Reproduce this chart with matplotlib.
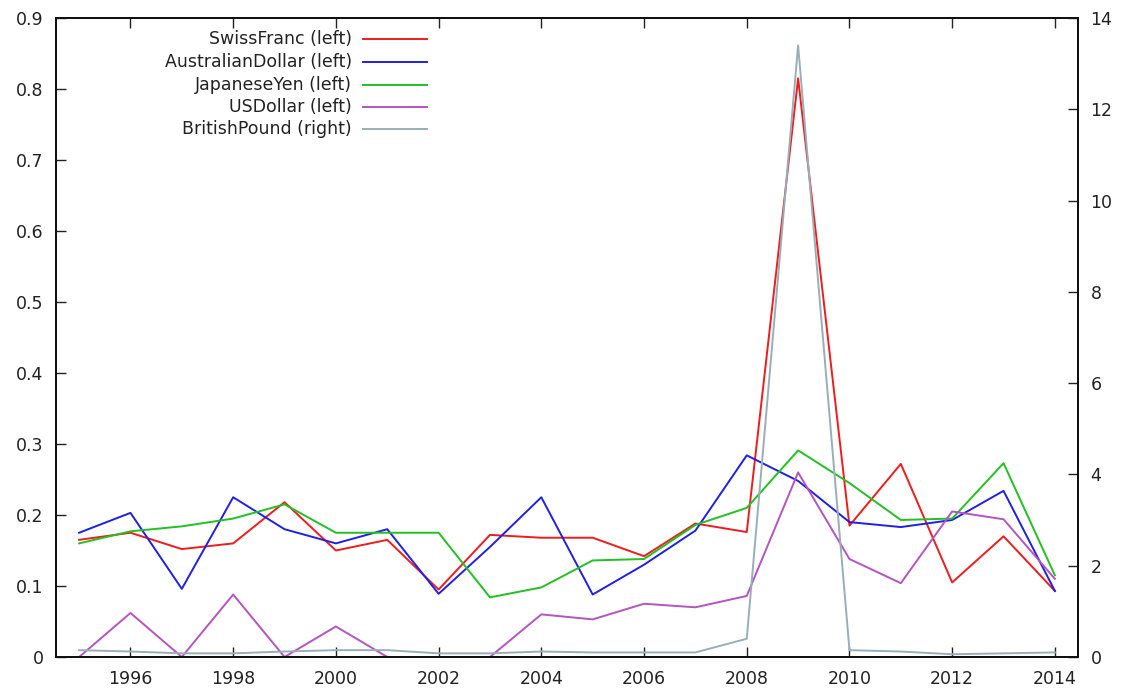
import matplotlib
matplotlib.use("Agg")
import matplotlib.pyplot as plt
from matplotlib.lines import Line2D

years = list(range(1995, 2015))
swiss_franc = [0.165, 0.175, 0.152, 0.160, 0.218, 0.150, 0.165, 0.095, 0.172, 0.168,
               0.168, 0.142, 0.188, 0.176, 0.815, 0.185, 0.272, 0.105, 0.170, 0.093]
australian_dollar = [0.175, 0.203, 0.096, 0.225, 0.180, 0.160, 0.180, 0.089, 0.155, 0.225,
                     0.088, 0.130, 0.178, 0.284, 0.248, 0.190, 0.183, 0.193, 0.234, 0.093]
japanese_yen = [0.160, 0.177, 0.184, 0.195, 0.215, 0.175, 0.175, 0.175, 0.084, 0.098,
                0.136, 0.138, 0.186, 0.210, 0.291, 0.245, 0.193, 0.195, 0.273, 0.115]
us_dollar = [0.0, 0.062, 0.0, 0.088, 0.0, 0.043, 0.0, 0.0, 0.0, 0.060,
             0.053, 0.075, 0.070, 0.086, 0.260, 0.138, 0.104, 0.205, 0.194, 0.110]
british_pound = [0.15, 0.12, 0.08, 0.08, 0.12, 0.15, 0.15, 0.08, 0.08, 0.12,
                 0.10, 0.10, 0.10, 0.40, 13.4, 0.15, 0.12, 0.06, 0.08, 0.10]

left_series = [
    ("SwissFranc (left)", swiss_franc, "#ee1c1c"),
    ("AustralianDollar (left)", australian_dollar, "#1f1fe6"),
    ("JapaneseYen (left)", japanese_yen, "#22c022"),
    ("USDollar (left)", us_dollar, "#b454c0"),
]
right_label = "BritishPound (right)"
right_color = "#98aeb8"

x_ticks = list(range(1996, 2015, 2))
left_ticks = [0, 0.1, 0.2, 0.3, 0.4, 0.5, 0.6, 0.7, 0.8, 0.9]
right_ticks = [0, 2, 4, 6, 8, 10, 12, 14]

plt.rcParams['font.family'] = ['DejaVu Sans']
fig = plt.figure(figsize=(11.31, 6.95), dpi=100)
ax = fig.add_axes([56/1131, 1-657/695, (1078-56)/1131, (657-18)/695])
ax2 = ax.twinx()

for name, vals, col in left_series:
    ax.plot(years, vals, color=col, lw=1.4, clip_on=True)
ax2.plot(years, british_pound, color=right_color, lw=1.4)

ax.set_xlim(1994.55, 2014.45)
ax.set_ylim(0, 0.9)
ax2.set_ylim(0, 14)

ax.set_xticks(x_ticks)
ax.set_xticklabels([str(t) for t in x_ticks])
ax.set_yticks(left_ticks)
ax.set_yticklabels(["0"] + ["%.1f" % t for t in left_ticks[1:]])
ax2.set_yticks(right_ticks)
ax2.set_yticklabels([str(t) for t in right_ticks])

ax.tick_params(axis='x', direction='in', top=True, bottom=True, length=7, width=1,
               labelsize=12.5, colors='#222222', pad=9)
ax.tick_params(axis='y', direction='in', left=True, right=False, length=7, width=1,
               labelsize=12.5, colors='#222222', pad=9)
ax2.tick_params(axis='y', direction='in', right=True, left=False, length=7, width=1,
                labelsize=12.5, colors='#222222', pad=9)
for a in (ax, ax2):
    for s in a.spines.values():
        s.set_linewidth(1.4)
        s.set_color('#111111')

# legend (gnuplot style, right-aligned text, sample line on the right)
entries = [(n, c) for n, _, c in left_series] + [(right_label, right_color)]
W, H = 1078 - 56, 657 - 18
rows_px = [39, 62, 85, 107, 129]
for (name, col), ry in zip(entries, rows_px):
    yy = (657 - ry) / H
    ax.text((352 - 56) / W, yy, name, transform=ax.transAxes, ha='right', va='center',
            fontsize=12.5, color='#222222')
    ax.add_line(Line2D([(363 - 56) / W, (427 - 56) / W], [yy, yy], transform=ax.transAxes,
                       color=col, lw=1.4, clip_on=False))

fig.savefig("out.png", dpi=100)
